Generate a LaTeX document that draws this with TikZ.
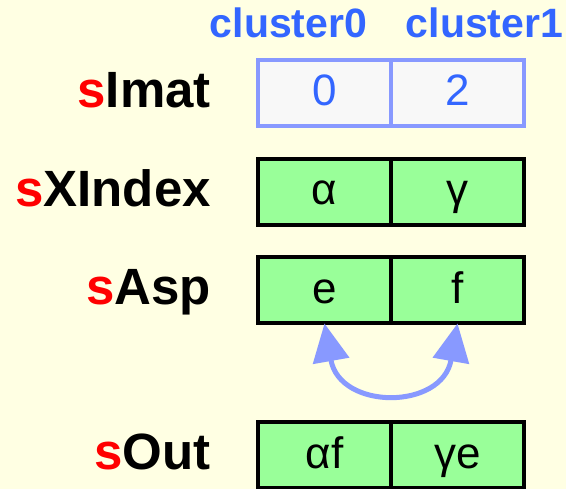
\documentclass[tikz,border=0pt]{standalone}
\usepackage{fontspec}
\setmainfont{Liberation Sans}
\usetikzlibrary{positioning,arrows.meta}
\definecolor{bg}{HTML}{FFFFE3}
\definecolor{cellgreen}{HTML}{99FF99}
\definecolor{lineblue}{HTML}{8899FF}
\definecolor{textblue}{HTML}{3366FF}
\definecolor{cellwhite}{HTML}{F8F8F8}
\tikzset{
  cell/.style={draw=black, fill=cellgreen, line width=4pt, minimum width=133pt, minimum height=66pt,
    outer sep=0pt, inner sep=0pt, text height=26pt, text depth=0pt, font=\fontsize{44}{50}\selectfont},
  imcell/.style={cell, draw=lineblue, fill=cellwhite, text=textblue},
  rowlabel/.style={inner sep=0pt, text height=29pt, text depth=0pt, font=\fontsize{51}{60}\selectfont\bfseries},
  colhead/.style={inner sep=0pt, text height=30pt, text depth=0pt, text=textblue, font=\fontsize{41}{50}\selectfont\bfseries},
}

\begin{document}
\begin{tikzpicture}[x=1pt, y=-1pt]

  \useasboundingbox (0,0) rectangle (566,489);
  \fill[bg] (0,0) rectangle (566,489);

  % Define nodes
  \node[imcell] (imat0) at (324.5,93) {0};
  \node[imcell, right=0pt of imat0] (imat1) {2};
  \node[cell] (xidx0) at (324.5,192) {α};
  \node[cell, right=0pt of xidx0] (xidx1) {γ};
  \node[cell] (asp0) at (324.5,290.5) {e};
  \node[cell, right=0pt of asp0] (asp1) {f};
  \node[cell] (out0) at (324.5,455.5) {αf};
  \node[cell, right=0pt of out0] (out1) {γe};

  \node[colhead, above=22pt of imat0, xshift=-36pt] (head0) {cluster0};
  \node[colhead, above=22pt of imat1, xshift=27pt] (head1) {cluster1};

  \node[rowlabel, left=47pt of imat0] (limat) {\textcolor{red}{s}Imat};
  \node[rowlabel, left=47pt of xidx0] (lxidx) {\textcolor{red}{s}XIndex};
  \node[rowlabel, left=47pt of asp0] (lasp) {\textcolor{red}{s}Asp};
  \node[rowlabel, left=47pt of out0] (lout) {\textcolor{red}{s}Out};

  % Connect the nodes
  \draw[lineblue, line width=5pt, {Triangle[length=38pt,width=36pt]}-{Triangle[length=38pt,width=36pt]}]
    (asp0.south) to[out=-80, in=-100, looseness=1.7] (asp1.south);

\end{tikzpicture}
\end{document}
